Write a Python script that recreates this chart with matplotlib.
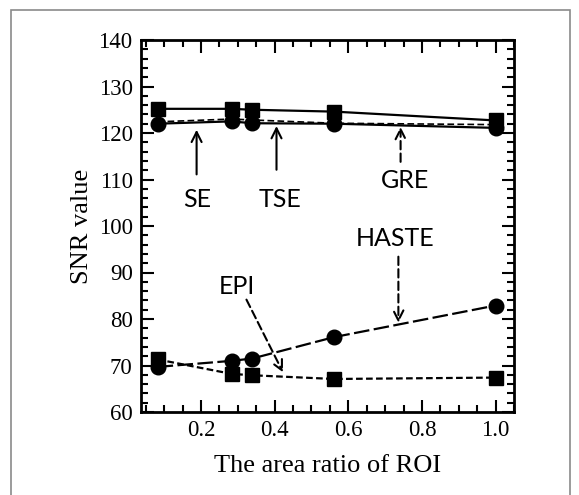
import matplotlib.pyplot as plt
from matplotlib.patches import Rectangle
from matplotlib.ticker import MultipleLocator

# area ratio of ROI
ratio = [0.082, 0.283, 0.339, 0.561, 1.0]

# SNR values
se_snr = [125.2, 125.2, 125.0, 124.6, 122.7]
tse_snr = [122.0, 122.5, 122.1, 122.0, 121.1]
gre_snr = [122.4, 123.0, 122.8, 122.1, 121.8]
haste_snr = [69.7, 71.0, 71.5, 76.1, 82.9]
epi_snr = [71.3, 68.2, 67.9, 67.1, 67.4]

xticks = [0.2, 0.4, 0.6, 0.8, 1.0]
yticks = [60, 70, 80, 90, 100, 110, 120, 130, 140]

serif = ['Liberation Serif', 'DejaVu Serif']
sans = ['Lato', 'DejaVu Sans']

fig = plt.figure(figsize=(5.79, 4.95), dpi=100)
ax = fig.add_axes([141 / 579, 1 - 412 / 495, 373 / 579, 372 / 495])

# outer frame around the figure
fig.patches.append(Rectangle((11 / 579, -0.01), 559 / 579, 1 - 10 / 495 + 0.01,
                             transform=fig.transFigure, fill=False,
                             edgecolor='#8a8a8a', linewidth=1.2))

ax.plot(ratio, gre_snr, color='black', lw=1.2, ls=(0, (4, 2)), zorder=2)
ax.plot(ratio, se_snr, color='black', lw=1.6, marker='s', ms=10.5, zorder=3)
ax.plot(ratio, tse_snr, color='black', lw=1.6, marker='o', ms=10.5, zorder=3)
ax.plot(ratio, haste_snr, color='black', lw=1.6, ls=(0, (7, 2)), marker='o', ms=10.5, zorder=3)
ax.plot(ratio, epi_snr, color='black', lw=1.6, ls=(0, (3, 1.5)), marker='s', ms=10.5, zorder=3)

ax.set_xlim(0.037, 1.05)
ax.set_ylim(60, 140)
ax.set_xticks(xticks)
ax.set_xticklabels(['0.2', '0.4', '0.6', '0.8', '1.0'])
ax.set_yticks(yticks)
ax.xaxis.set_minor_locator(MultipleLocator(0.05))
ax.yaxis.set_minor_locator(MultipleLocator(2))
ax.tick_params(which='both', direction='in', top=True, right=True, width=1.5)
ax.tick_params(which='major', length=9, labelsize=16.5, pad=6)
ax.tick_params(which='minor', length=5)
for lab in ax.get_xticklabels() + ax.get_yticklabels():
    lab.set_family(serif)
for s in ax.spines.values():
    s.set_linewidth(2)

ax.set_xlabel('The area ratio of ROI', family=serif, fontsize=19, labelpad=10)
ax.set_ylabel('SNR value', family=serif, fontsize=19, labelpad=4)

solid = dict(arrowstyle='->', color='black', lw=1.5, mutation_scale=18)
dashed = dict(arrowstyle='->', color='black', lw=1.5, ls=(0, (4, 2)), mutation_scale=18)

ax.annotate('', xy=(0.188, 121.3), xytext=(0.188, 110.5), arrowprops=solid)
ax.text(0.19, 105.8, 'SE', family=sans, fontsize=18, ha='center', va='center')
ax.annotate('', xy=(0.405, 122.1), xytext=(0.405, 111.5), arrowprops=solid)
ax.text(0.415, 105.8, 'TSE', family=sans, fontsize=18, ha='center', va='center')
ax.annotate('', xy=(0.742, 121.9), xytext=(0.742, 113.2), arrowprops=dashed)
ax.text(0.755, 109.8, 'GRE', family=sans, fontsize=18, ha='center', va='center')
ax.annotate('', xy=(0.736, 78.6), xytext=(0.736, 94.0), arrowprops=dashed)
ax.text(0.728, 97.3, 'HASTE', family=sans, fontsize=18, ha='center', va='center')
ax.annotate('', xy=(0.426, 68.0), xytext=(0.32, 84.7), arrowprops=dashed)
ax.text(0.297, 87.0, 'EPI', family=sans, fontsize=18, ha='center', va='center')

fig.savefig('out.png', dpi=100)
